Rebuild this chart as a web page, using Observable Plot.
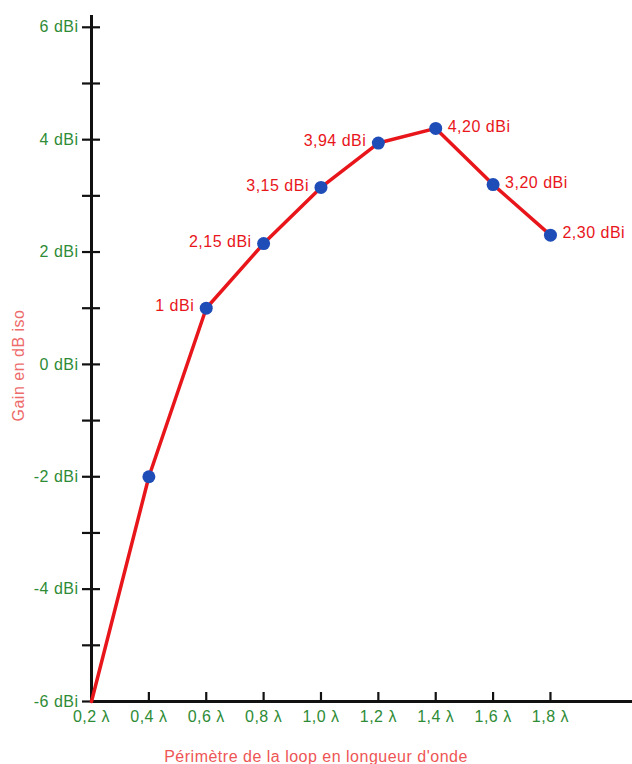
<!DOCTYPE html>
<html><head><meta charset="utf-8">
<script src="https://cdn.jsdelivr.net/npm/d3@7"></script>
<script src="https://cdn.jsdelivr.net/npm/@observablehq/plot@0.6"></script>
<style>
body{margin:0;background:#fff}
svg text{font-family:"Liberation Sans",Arial,Helvetica,sans-serif;letter-spacing:0.5px}
</style>
</head><body><div id="chart"></div><script>
const perimeters = [0.2, 0.4, 0.6, 0.8, 1.0, 1.2, 1.4, 1.6, 1.8];
const gains = [-6, -2, 1, 2.15, 3.15, 3.94, 4.20, 3.20, 2.30];
const gainLabels = ["", "", "1 dBi", "2,15 dBi", "3,15 dBi", "3,94 dBi", "4,20 dBi", "3,20 dBi", "2,30 dBi"];
const labelSide = ["", "", "left", "left", "left", "left", "right", "right", "right"];
const showDot = [false, true, true, true, true, true, true, true, true];
const xTickValues = [0.2, 0.4, 0.6, 0.8, 1.0, 1.2, 1.4, 1.6, 1.8];
const xTickLabels = ["0,2 λ", "0,4 λ", "0,6 λ", "0,8 λ", "1,0 λ", "1,2 λ", "1,4 λ", "1,6 λ", "1,8 λ"];
const yTickValues = [-6, -4, -2, 0, 2, 4, 6];
const yTickLabels = ["-6 dBi", "-4 dBi", "-2 dBi", "0 dBi", "2 dBi", "4 dBi", "6 dBi"];
const yMinorTicks = [-5, -3, -1, 1, 3, 5];
const xTitle = "Périmètre de la loop en longueur d'onde";
const yTitle = "Gain en dB iso";

const data = perimeters.map((x, i) => ({x, y: gains[i], label: gainLabels[i], side: labelSide[i], dot: showDot[i]}));
const green = "#2e8b36";
const red = "#e8161b";
const axisColor = "#111";

const chart = Plot.plot({
  width: 632,
  height: 764,
  marginLeft: 91,
  marginRight: 0,
  marginTop: 15,
  marginBottom: 63,
  x: {domain: [0.2, 2.086]},
  y: {domain: [-6, 6.21]},
  marks: [
    Plot.axisY(yTickValues.concat(yMinorTicks), {tickSize: 18, dx: 9, tickFormat: () => "", stroke: axisColor, strokeWidth: 2.2, label: null}),
    Plot.axisY(yTickValues, {tickSize: 0, tickPadding: 13, tickFormat: d => yTickLabels[yTickValues.indexOf(d)], fill: green, fontSize: 16, label: null}),
    Plot.axisX(xTickValues, {tickSize: 9, dy: -9, tickFormat: () => "", stroke: axisColor, strokeWidth: 2.2, label: null}),
    Plot.axisX(xTickValues, {tickSize: 0, tickPadding: 9, tickFormat: d => xTickLabels[xTickValues.indexOf(d)], fill: green, fontSize: 16, label: null}),
    Plot.ruleX([0.2], {stroke: axisColor, strokeWidth: 3}),
    Plot.ruleY([-6], {stroke: axisColor, strokeWidth: 3}),
    Plot.line(data, {x: "x", y: "y", stroke: red, strokeWidth: 3.5}),
    Plot.dot(data.filter(d => d.dot), {x: "x", y: "y", r: 6.5, fill: "#1f4db8"}),
    Plot.text(data.filter(d => d.side === "left"), {x: "x", y: "y", text: "label", textAnchor: "end", dx: -12, dy: -2, fill: red, fontSize: 16}),
    Plot.text(data.filter(d => d.side === "right"), {x: "x", y: "y", text: "label", textAnchor: "start", dx: 12, dy: -2, fill: red, fontSize: 16}),
    Plot.text([xTitle], {frameAnchor: "bottom", textAnchor: "middle", dx: -46, dy: 60, fill: "#ee5555", fontSize: 16}),
    Plot.text([yTitle], {frameAnchor: "left", textAnchor: "middle", rotate: -90, dx: -73, dy: 7, fill: "#ee6b6b", fontSize: 16})
  ]
});
document.getElementById("chart").append(chart);
</script></body></html>
